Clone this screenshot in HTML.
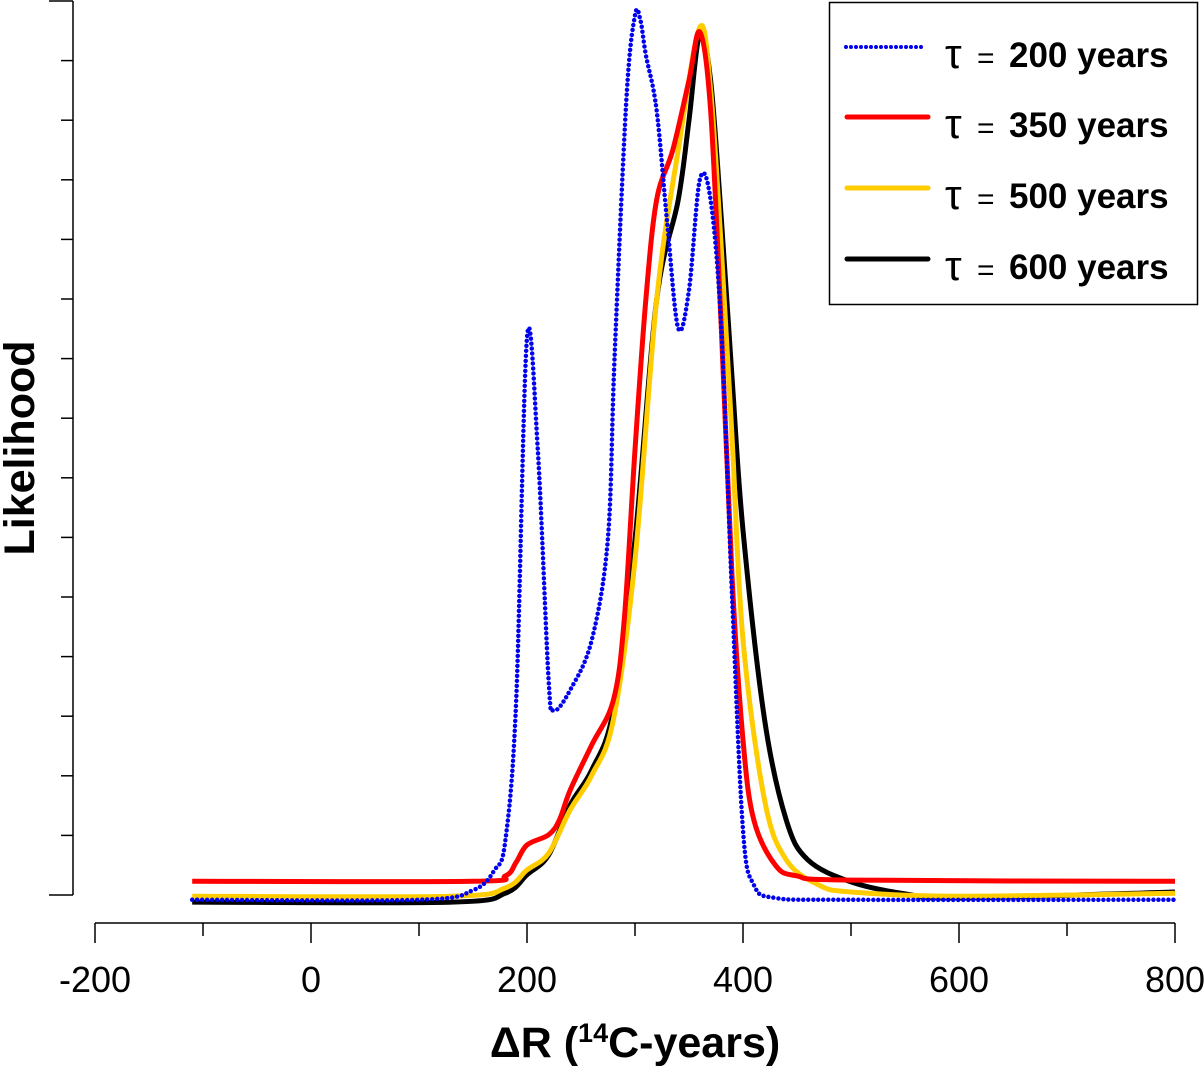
<!DOCTYPE html>
<html><head><meta charset="utf-8"><style>
body{margin:0;background:#fff}
svg text{font-family:"Liberation Sans",sans-serif}
</style></head><body>
<svg id="chart" width="1204" height="1067" viewBox="0 0 1204 1067" xmlns="http://www.w3.org/2000/svg">
<g id="axes"></g>
<g id="series"></g>
<text transform="translate(34,448) rotate(-90)" text-anchor="middle" font-size="43" font-weight="bold">Likelihood</text>
<text x="635" y="1057" text-anchor="middle" font-size="43" font-weight="bold">ΔR (<tspan font-size="27" dy="-15">14</tspan><tspan dy="15">C-years)</tspan></text>
<g>
<rect x="829.5" y="2.5" width="368" height="302" fill="#fff" stroke="#000" stroke-width="1.5"/>
<line x1="846" y1="47" x2="922" y2="47" stroke="#0000ee" stroke-width="4" stroke-linecap="round" stroke-dasharray="0 5"/>
<line x1="847" y1="117" x2="928" y2="117" stroke="#ff0000" stroke-width="5" stroke-linecap="round"/>
<line x1="847" y1="188" x2="928" y2="188" stroke="#ffcc00" stroke-width="5" stroke-linecap="round"/>
<line x1="847" y1="259" x2="928" y2="259" stroke="#000" stroke-width="5" stroke-linecap="round"/>
<g><text x="945" y="68" font-family="Liberation Serif" font-size="42">τ</text><text x="977" y="68" font-size="30">=</text><text x="1009" y="67" font-size="35" font-weight="bold">200 years</text></g>
<g><text x="945" y="138" font-family="Liberation Serif" font-size="42">τ</text><text x="977" y="138" font-size="30">=</text><text x="1009" y="137" font-size="35" font-weight="bold">350 years</text></g>
<g><text x="945" y="209" font-family="Liberation Serif" font-size="42">τ</text><text x="977" y="209" font-size="30">=</text><text x="1009" y="208" font-size="35" font-weight="bold">500 years</text></g>
<g><text x="945" y="280" font-family="Liberation Serif" font-size="42">τ</text><text x="977" y="280" font-size="30">=</text><text x="1009" y="279" font-size="35" font-weight="bold">600 years</text></g>
</g>
</svg>
<script>
const xTicks = [-200, 0, 200, 400, 600, 800];
const xMinorTicks = [-100, 100, 300, 500, 700];
const yTickCount = 16;
const blueX = [-110, 100, 150, 170, 180, 190, 200, 210, 220, 225, 240, 260, 275, 281, 292, 300, 305, 310, 320, 330, 340, 350, 360, 370, 380, 390, 400, 410, 430, 500, 800];
const blueV = [-0.8, -0.8, 0.8, 4.2, 9.2, 32.7, 93.5, 74.7, 36.1, 31.0, 34.4, 42.8, 60, 89.8, 133.4, 147.6, 146.8, 141, 131.7, 112.4, 95.1, 101.5, 120, 116.6, 94.8, 49.5, 10.9, 1.7, -0.5, -0.8, -0.8];
const redX = [-110, 150, 180, 190, 200, 220, 230, 240, 260, 280, 290, 300, 310, 320, 335, 350, 360, 370, 380, 390, 400, 410, 430, 450, 500, 800];
const redV = [2.3, 2.3, 3.2, 5.5, 8.4, 10.1, 12.6, 17.6, 25.2, 32.7, 46.1, 74.7, 99.8, 116.6, 125, 136.7, 144.8, 131.7, 94.8, 52.9, 26, 12.6, 5, 3.2, 2.5, 2.3];
const yellowX = [-110, 130, 180, 200, 220, 240, 260, 280, 300, 320, 340, 360, 370, 380, 390, 400, 420, 440, 470, 500, 600, 800];
const yellowV = [-0.2, -0.2, 1.2, 4.2, 7, 14.3, 20.1, 29.4, 56.2, 99.8, 125, 145.6, 135.1, 108.2, 76.3, 42.8, 15.9, 5.9, 1.7, 0.5, -0.2, 0.3];
const blackX = [-110, 130, 180, 200, 220, 240, 260, 280, 300, 320, 340, 350, 360, 370, 380, 390, 400, 420, 440, 460, 500, 550, 600, 800];
const blackV = [-1.2, -1.2, 0.3, 3.4, 6.7, 15.1, 21, 31, 59.6, 99.8, 116.6, 130, 144.6, 136.7, 113.3, 86.4, 61.2, 29.4, 12.6, 5.9, 2.2, 0.2, -0.5, 0.5];

const NS = 'http://www.w3.org/2000/svg';
const xs = v => 311 + v * 1.08;
const ys = v => 895 - v * 5.96;
const axes = document.getElementById('axes');
function mk(tag, attrs, parent) {
  const e = document.createElementNS(NS, tag);
  for (const k in attrs) e.setAttribute(k, attrs[k]);
  parent.appendChild(e);
  return e;
}
let l = mk('line', {x1: xs(-200), x2: xs(800), y1: 923, y2: 923, stroke: '#000', 'stroke-width': 1.5}, axes);


xTicks.forEach(t => {
  const tk = mk('line', {x1: xs(t), x2: xs(t), y1: 923, y2: 943, stroke: '#000', 'stroke-width': 1.5}, axes);
  
  
  const tx = mk('text', {x: xs(t), y: 992, 'text-anchor': 'middle', 'font-size': 36}, axes);
  
  
  tx.textContent = t;
});
xMinorTicks.forEach(t => {
  const tk = mk('line', {x1: xs(t), x2: xs(t), y1: 923, y2: 936, stroke: '#000', 'stroke-width': 1.5}, axes);
  
  
});
l = mk('line', {x1: 73, x2: 73, y1: 1, y2: 895, stroke: '#000', 'stroke-width': 1.5}, axes);


for (let i = 0; i < yTickCount; i++) {
  const y = ys(i * 10);
  const tk = mk('line', {x1: (i === 0 || i === yTickCount - 1) ? 49 : 61, x2: 73, y1: y, y2: y, stroke: '#000', 'stroke-width': 1.5}, axes);
  
  
}
function pathFor(X, V) {
  const p = X.map((x, i) => [xs(x), ys(V[i])]);
  let d = `M${p[0][0]},${p[0][1]}`;
  for (let i = 0; i < p.length - 1; i++) {
    const p0 = p[i - 1] || p[i], p1 = p[i], p2 = p[i + 1], p3 = p[i + 2] || p2;
    const c1 = [p1[0] + (p2[0] - p0[0]) / 6, p1[1] + (p2[1] - p0[1]) / 6];
    const c2 = [p2[0] - (p3[0] - p1[0]) / 6, p2[1] - (p3[1] - p1[1]) / 6];
    d += `C${c1[0]},${c1[1]} ${c2[0]},${c2[1]} ${p2[0]},${p2[1]}`;
  }
  return d;
}
const sg = document.getElementById('series');
let s;
s = mk('path', {d: pathFor(blackX, blackV), fill: 'none', stroke: '#000', 'stroke-width': 5}, sg);


s = mk('path', {d: pathFor(yellowX, yellowV), fill: 'none', stroke: '#ffcc00', 'stroke-width': 5}, sg);


s = mk('path', {d: pathFor(redX, redV), fill: 'none', stroke: '#ff0000', 'stroke-width': 5}, sg);


s = mk('path', {d: pathFor(blueX, blueV), fill: 'none', stroke: '#0000ee', 'stroke-width': 4.5, 'stroke-linecap': 'round', 'stroke-dasharray': '0 5'}, sg);


</script>
</body></html>
